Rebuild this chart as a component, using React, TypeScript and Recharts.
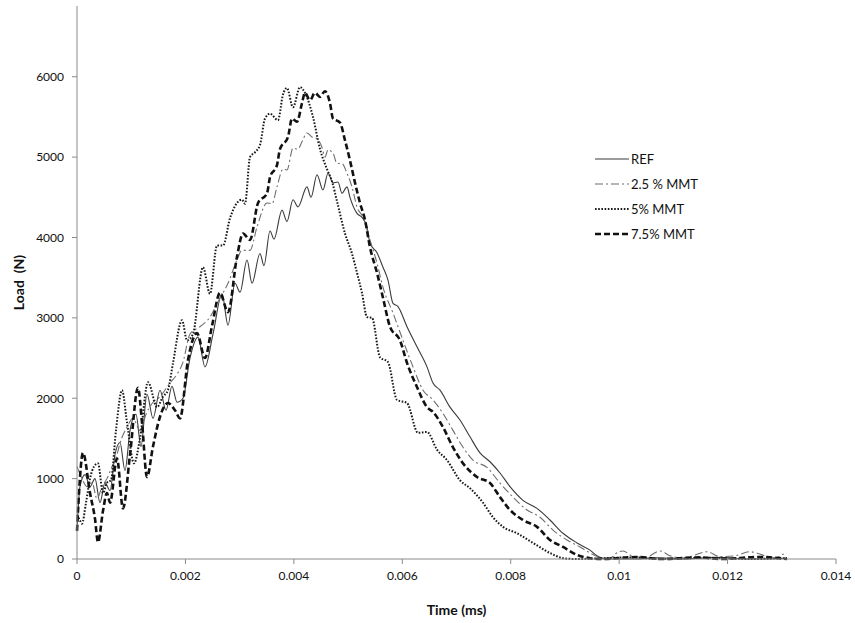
import { LineChart, Line, XAxis, YAxis, Legend } from 'recharts';

// time in s, load in N
const refTime = [0, 0.000055, 0.000148, 0.00024, 0.000332, 0.000424, 0.000516, 0.000609, 0.000701, 0.000793, 0.000885, 0.000978, 0.001088, 0.00118, 0.001291, 0.001402, 0.001531, 0.001642, 0.001752, 0.001845, 0.001955, 0.002084, 0.002232, 0.002361, 0.002509, 0.002675, 0.002785, 0.002914, 0.003007, 0.003136, 0.003228, 0.003375, 0.003449, 0.00356, 0.003634, 0.003781, 0.003873, 0.003984, 0.004076, 0.004242, 0.004316, 0.004427, 0.004537, 0.00463, 0.004722, 0.004814, 0.004888, 0.00498, 0.005035, 0.005165, 0.005257, 0.005349, 0.005404, 0.005534, 0.005644, 0.005736, 0.005829, 0.005921, 0.006087, 0.006271, 0.006456, 0.006566, 0.006696, 0.00688, 0.007064, 0.007249, 0.007433, 0.007618, 0.007802, 0.007987, 0.008226, 0.008485, 0.008724, 0.008964, 0.009223, 0.009462, 0.009591, 0.009739, 0.0103, 0.0107, 0.0112, 0.0118, 0.0124, 0.0131];
const refLoad = [350, 900, 1050, 900, 1000, 700, 950, 850, 1300, 1450, 1100, 1600, 1800, 1400, 2050, 1750, 2100, 1850, 2150, 1950, 2000, 2500, 2760, 2390, 2800, 3300, 2910, 3430, 3320, 3720, 3430, 3800, 3650, 4080, 3980, 4340, 4200, 4470, 4380, 4630, 4500, 4780, 4590, 4800, 4680, 4690, 4550, 4630, 4500, 4300, 4250, 4130, 3930, 3810, 3630, 3470, 3180, 3140, 2890, 2640, 2390, 2190, 2100, 1890, 1730, 1520, 1320, 1210, 1070, 900, 730, 630, 485, 320, 200, 110, 40, 0, 0, 15, 0, 20, 0, 10];

const mmt25Time = [0, 0.000092, 0.000184, 0.000277, 0.000369, 0.000461, 0.000553, 0.000646, 0.000738, 0.000793, 0.000922, 0.001033, 0.001162, 0.001273, 0.001402, 0.001531, 0.001715, 0.001845, 0.001955, 0.002084, 0.002269, 0.002453, 0.002601, 0.002785, 0.002951, 0.003043, 0.003191, 0.00332, 0.003505, 0.003597, 0.003689, 0.0038, 0.003873, 0.003984, 0.004076, 0.00415, 0.004242, 0.004335, 0.004427, 0.004519, 0.004574, 0.00463, 0.004722, 0.004796, 0.004888, 0.00498, 0.005072, 0.005165, 0.005275, 0.005404, 0.005534, 0.005644, 0.005829, 0.006013, 0.006198, 0.006382, 0.006566, 0.006751, 0.006935, 0.00712, 0.007304, 0.007562, 0.007802, 0.008042, 0.0083, 0.00854, 0.00878, 0.009038, 0.009278, 0.009462, 0.009647, 0.009831, 0.009923, 0.010071, 0.010237, 0.010477, 0.010753, 0.010938, 0.011215, 0.011399, 0.01162, 0.01186, 0.012137, 0.012413, 0.01269, 0.012875, 0.013022, 0.013096];
const mmt25Load = [1150, 1000, 900, 950, 750, 900, 1000, 1150, 1300, 1440, 1640, 1750, 1600, 1800, 1950, 2020, 2190, 2300, 2450, 2800, 2890, 3010, 3200, 3430, 3720, 3840, 3840, 4130, 4430, 4420, 4630, 4850, 4840, 5110, 5100, 5190, 5300, 5250, 5230, 5120, 5000, 5090, 5050, 4920, 4920, 4800, 4630, 4380, 4250, 3970, 3680, 3380, 3060, 2720, 2390, 2100, 1980, 1810, 1600, 1390, 1230, 1140, 945, 770, 610, 520, 360, 236, 150, 75, 20, 0, 60, 100, 40, 20, 100, 40, 10, 50, 90, 30, 40, 90, 40, 10, 60, 70];

const mmt5Time = [0, 0.000055, 0.000092, 0.000166, 0.00024, 0.000314, 0.000387, 0.00048, 0.000553, 0.000627, 0.000719, 0.00083, 0.000922, 0.001051, 0.001162, 0.00131, 0.001476, 0.001586, 0.001678, 0.001771, 0.001937, 0.002029, 0.00214, 0.002324, 0.002453, 0.002582, 0.002693, 0.002822, 0.002951, 0.003043, 0.003099, 0.003191, 0.003283, 0.003375, 0.003468, 0.00356, 0.003707, 0.0038, 0.003873, 0.003984, 0.004113, 0.004205, 0.004353, 0.004482, 0.004611, 0.004703, 0.004796, 0.004943, 0.005072, 0.005165, 0.005257, 0.005349, 0.005441, 0.005589, 0.005736, 0.005902, 0.006087, 0.00629, 0.006456, 0.00664, 0.006825, 0.007064, 0.007249, 0.007489, 0.007673, 0.007858, 0.008116, 0.008411, 0.008724, 0.008964, 0.009186, 0.010237, 0.010753, 0.01162, 0.012413, 0.013096];
const mmt5Load = [550, 480, 440, 700, 1000, 1150, 1190, 820, 950, 980, 1600, 2100, 1700, 1190, 1500, 2200, 1890, 2020, 2100, 2440, 2970, 2720, 2800, 3630, 3300, 3900, 3900, 4240, 4430, 4470, 4420, 5000, 5060, 5150, 5480, 5540, 5460, 5780, 5860, 5620, 5870, 5800, 5500, 5100, 4850, 4700, 4450, 4050, 3800, 3560, 3310, 3010, 3000, 2510, 2450, 1980, 1940, 1570, 1580, 1360, 1230, 980, 880, 700, 520, 400, 320, 200, 75, 10, 0, 20, 0, 15, 0, 10];

const mmt75Time = [0, 0.000111, 0.00024, 0.000332, 0.000387, 0.00048, 0.000553, 0.000609, 0.000738, 0.000848, 0.000978, 0.001125, 0.001199, 0.001291, 0.001402, 0.001531, 0.001678, 0.001808, 0.0019, 0.002047, 0.002213, 0.002361, 0.00249, 0.002638, 0.002785, 0.002951, 0.003062, 0.003191, 0.003339, 0.003505, 0.00356, 0.003689, 0.003744, 0.003892, 0.003966, 0.004058, 0.00415, 0.004205, 0.004298, 0.00439, 0.004482, 0.004574, 0.004667, 0.004722, 0.004851, 0.004943, 0.005035, 0.005128, 0.00522, 0.005312, 0.005404, 0.005534, 0.005644, 0.005773, 0.005958, 0.006087, 0.006271, 0.006456, 0.006566, 0.006751, 0.006935, 0.00712, 0.007378, 0.007618, 0.007802, 0.007987, 0.008226, 0.008485, 0.008724, 0.008964, 0.009223, 0.009462, 0.009647, 0.010384, 0.010753, 0.011491, 0.01186, 0.012598, 0.013096];
const mmt75Load = [350, 1320, 820, 500, 210, 600, 820, 700, 1250, 630, 1300, 2130, 1700, 1020, 1400, 1770, 1940, 1850, 1750, 2475, 2810, 2500, 2900, 3310, 3070, 3760, 4050, 3970, 4430, 4550, 4750, 4900, 5100, 5250, 5480, 5440, 5670, 5800, 5710, 5800, 5750, 5820, 5670, 5480, 5430, 5210, 4960, 4680, 4430, 4220, 3880, 3560, 3250, 2890, 2720, 2440, 2140, 1890, 1830, 1640, 1390, 1190, 1020, 945, 770, 610, 485, 400, 236, 150, 50, 10, 0, 25, 0, 20, 0, 25, 0];

const timeTicks = [0, 0.002, 0.004, 0.006, 0.008, 0.01, 0.012, 0.014];
const loadTicks = [0, 1000, 2000, 3000, 4000, 5000, 6000];

const toRows = (t: number[], v: number[]) => t.map((x, i) => ({ t: x, load: v[i] }));

const series = [
  { name: 'REF', rows: toRows(refTime, refLoad), color: '#3a3a3a', width: 1.1, dash: undefined },
  { name: '2.5 % MMT', rows: toRows(mmt25Time, mmt25Load), color: '#6e6e6e', width: 1.1, dash: '8 3 2 3' },
  { name: '5% MMT', rows: toRows(mmt5Time, mmt5Load), color: '#1a1a1a', width: 2, dash: '1.6 1.6' },
  { name: '7.5% MMT', rows: toRows(mmt75Time, mmt75Load), color: '#111111', width: 2.6, dash: '6 3' },
];

const font = 'Lato, "Open Sans", sans-serif';
const axisGray = '#8a8a8a';

function LegendBox() {
  return (
    <div style={{ fontFamily: font, fontSize: 13, color: '#111' }}>
      {series.map((s) => (
        <div key={s.name} style={{ display: 'flex', alignItems: 'center', height: 25 }}>
          <svg width={34} height={8} style={{ marginRight: 2 }}>
            <line x1={0} y1={4} x2={34} y2={4} stroke={s.color} strokeWidth={s.width} strokeDasharray={s.dash} />
          </svg>
          <span>{s.name}</span>
        </div>
      ))}
    </div>
  );
}

function YTitle(props: any) {
  const { viewBox } = props;
  const cx = viewBox.x + 1;
  const cy = viewBox.y + viewBox.height / 2;
  return (
    <text x={cx} y={cy} transform={`rotate(-90 ${cx} ${cy})`} textAnchor="middle" dominantBaseline="central"
      style={{ fontFamily: font, fontSize: 14, fontWeight: 700, whiteSpace: 'pre' }} fill="#111">
      Load  (N)
    </text>
  );
}

function XTitle(props: any) {
  const { viewBox } = props;
  return (
    <text x={viewBox.x + viewBox.width / 2} y={609} textAnchor="middle" dominantBaseline="central"
      style={{ fontFamily: font, fontSize: 14, fontWeight: 700 }} fill="#111">
      Time (ms)
    </text>
  );
}

export default function App() {
  return (
    <div style={{ position: 'absolute', left: 0, top: 0, background: '#fff' }}>
      <LineChart width={855} height={623} margin={{ top: 6, right: 19, bottom: 24, left: 17 }}>
        <XAxis
          type="number"
          dataKey="t"
          domain={[0, 0.014]}
          ticks={timeTicks}
          tickFormatter={(v: number) => String(v)}
          height={40}
          tickSize={5}
          tickMargin={7}
          stroke={axisGray}
          tick={{ fill: '#111', fontSize: 12, fontFamily: font }}
          label={<XTitle />}
        />
        <YAxis
          type="number"
          domain={[0, 6880]}
          ticks={loadTicks}
          width={60}
          tickSize={5}
          tickMargin={8}
          stroke={axisGray}
          tick={{ fill: '#111', fontSize: 12, fontFamily: font }}
          label={<YTitle />}
        />
        <Legend
          layout="vertical"
          align="center"
          verticalAlign="middle"
          content={<LegendBox />}
          wrapperStyle={{ position: 'absolute', left: 595, top: 146, width: 150 }}
        />
        {series.map((s) => (
          <Line
            key={s.name}
            data={s.rows}
            dataKey="load"
            name={s.name}
            type="monotone"
            stroke={s.color}
            strokeWidth={s.width}
            strokeDasharray={s.dash}
            dot={false}
            activeDot={false}
            isAnimationActive={false}
          />
        ))}
      </LineChart>
    </div>
  );
}
